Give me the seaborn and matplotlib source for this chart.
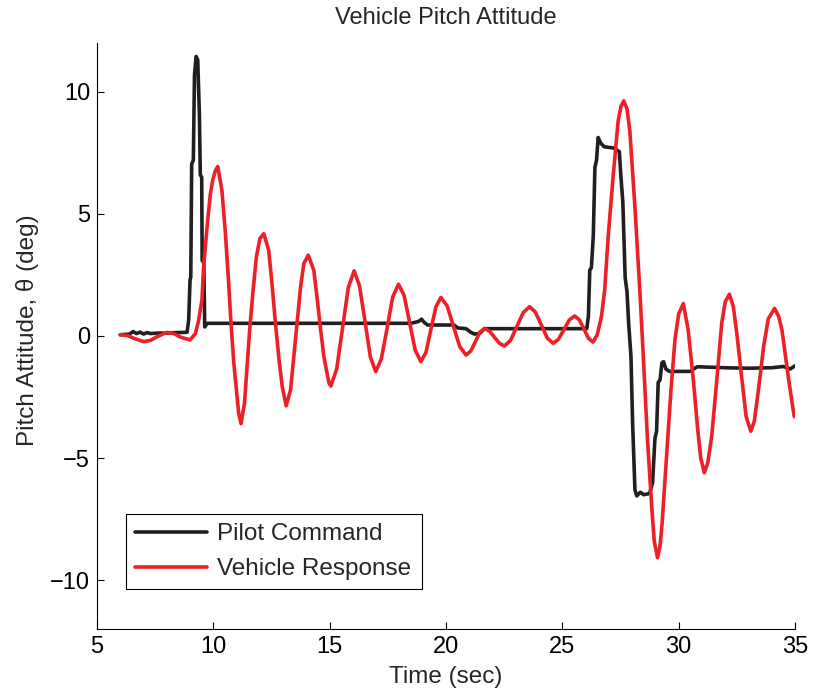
import numpy as np
import pandas as pd
import matplotlib
matplotlib.use("Agg")
import matplotlib.pyplot as plt
import seaborn as sns

# ---------------- data ----------------
cmd_time = [6.0, 6.4, 6.55, 6.7, 6.85, 7.0, 7.15, 7.3, 7.6, 8.0, 8.4, 8.87,
            8.94, 9.0, 9.03, 9.07, 9.14, 9.19, 9.26, 9.33, 9.4, 9.44, 9.5,
            9.52, 9.59, 9.63, 9.68, 9.75, 12.0, 15.0, 18.5, 18.83, 18.95,
            19.07, 19.21, 20.35, 20.5, 20.86, 21.07, 21.22, 21.44, 21.65,
            23.5, 25.96, 26.05, 26.12, 26.18, 26.25, 26.33, 26.4, 26.47,
            26.54, 26.65, 26.8, 27.2, 27.45, 27.52, 27.6, 27.7, 27.78, 27.85,
            27.95, 28.02, 28.12, 28.2, 28.35, 28.5, 28.75, 28.88, 28.98,
            29.05, 29.12, 29.2, 29.28, 29.35, 29.45, 29.6, 30.5, 30.65, 30.8,
            32.0, 33.0, 34.0, 34.5, 34.8, 35.0]
cmd_theta = [0.05, 0.08, 0.18, 0.10, 0.16, 0.08, 0.14, 0.10, 0.12, 0.12, 0.14, 0.15,
             0.65, 2.3, 2.4, 7.05, 7.2, 10.7, 11.45, 11.3, 9.1, 6.6, 6.5,
             3.1, 3.0, 0.37, 0.45, 0.52, 0.52, 0.52, 0.52, 0.60, 0.69,
             0.55, 0.45, 0.45, 0.33, 0.30, 0.15, 0.08, 0.10, 0.30,
             0.30, 0.30, 0.30, 0.80, 2.70, 2.80, 4.10, 6.90, 7.20,
             8.13, 7.90, 7.75, 7.70, 7.55, 6.50, 5.50, 2.40, 1.80, 0.52,
             -0.84, -3.56, -6.30, -6.55, -6.40, -6.50, -6.45, -6.00, -4.20,
             -3.90, -1.90, -1.80, -1.10, -1.05, -1.35, -1.45, -1.45, -1.35, -1.26,
             -1.30, -1.32, -1.30, -1.25, -1.35, -1.22]

resp_time = [6.0, 6.3, 6.6, 7.0, 7.3, 7.6, 8.0, 8.3, 8.6, 9.0, 9.23, 9.37,
             9.51, 9.58, 9.73, 9.87, 9.97, 10.08, 10.19, 10.37, 10.52, 10.66,
             10.76, 10.88, 10.99, 11.09, 11.19, 11.34, 11.45, 11.56, 11.71,
             11.85, 12.0, 12.17, 12.38, 12.52, 12.67, 12.81, 12.96, 13.13,
             13.32, 13.46, 13.6, 13.75, 13.89, 14.08, 14.32, 14.47, 14.58,
             14.75, 14.97, 15.05, 15.3, 15.55, 15.8, 16.05, 16.28, 16.52,
             16.75, 16.98, 17.22, 17.47, 17.71, 17.96, 18.2, 18.44, 18.68,
             18.92, 19.14, 19.35, 19.57, 19.78, 20.05, 20.32, 20.59, 20.86,
             21.06, 21.26, 21.45, 21.65, 21.87, 22.08, 22.3, 22.51, 22.78,
             23.05, 23.32, 23.59, 23.84, 24.1, 24.35, 24.6, 24.83, 25.07,
             25.3, 25.53, 25.73, 25.93, 26.12, 26.32, 26.5, 26.68, 26.82,
             26.97, 27.18, 27.4, 27.52, 27.64, 27.78, 27.9, 28.0, 28.12,
             28.33, 28.48, 28.66, 28.84, 28.95, 29.09, 29.2, 29.29, 29.48,
             29.67, 29.84, 30.0, 30.2, 30.41, 30.63, 30.82, 30.95, 31.1,
             31.25, 31.42, 31.64, 31.85, 32.0, 32.18, 32.35, 32.5, 32.72,
             32.9, 33.1, 33.25, 33.43, 33.65, 33.85, 34.12, 34.3, 34.44,
             34.73, 34.9, 34.97, 35.03]
resp_theta = [0.05, 0.02, -0.10, -0.23, -0.18, -0.02, 0.15, 0.10, -0.05, -0.16, 0.10, 0.65,
              1.47, 2.80, 4.46, 5.80, 6.37, 6.75, 6.94, 5.96, 4.19, 2.15,
              0.52, -1.11, -2.20, -3.16, -3.59, -2.75, -1.25, 0.24, 1.88,
              3.24, 3.99, 4.19, 3.51, 2.15, 0.52, -0.84, -2.07, -2.86,
              -2.20, -0.84, 0.52, 2.01, 2.97, 3.31, 2.69, 1.47, 0.52,
              -0.84, -1.93, -2.05, -1.36, 0.31, 1.98, 2.67, 2.06, 0.60,
              -0.86, -1.46, -0.94, 0.33, 1.60, 2.12, 1.66, 0.54, -0.59,
              -1.05, -0.67, 0.27, 1.20, 1.58, 1.23, 0.40, -0.43, -0.78,
              -0.62, -0.24, 0.15, 0.31, 0.20, -0.05, -0.30, -0.41, -0.17,
              0.40, 0.96, 1.20, 0.98, 0.45, -0.08, -0.30, -0.14, 0.26,
              0.66, 0.82, 0.66, 0.29, -0.09, -0.25, 0.05, 0.79, 1.88,
              4.05, 6.50, 8.82, 9.40, 9.63, 9.30, 8.41, 7.00, 5.28,
              1.88, -0.84, -4.24, -6.97, -8.40, -9.08, -8.60, -7.65, -4.93,
              -2.20, -0.16, 0.90, 1.33, 0.24, -1.80, -3.84, -5.00, -5.60,
              -5.20, -4.11, -1.80, 0.52, 1.40, 1.71, 1.20, 0.10, -1.80,
              -3.30, -3.90, -3.50, -2.20, -0.44, 0.70, 1.13, 0.80, 0.24,
              -1.80, -2.90, -3.30, -3.20]

series_names = ["Pilot Command", "Vehicle Response"]
series_colors = ["#231f20", "#ee2027"]
x_ticks = [5, 10, 15, 20, 25, 30, 35]
y_ticks = [-10, -5, 0, 5, 10]

df = pd.concat([
    pd.DataFrame({"time": cmd_time, "theta": cmd_theta, "series": series_names[0]}),
    pd.DataFrame({"time": resp_time, "theta": resp_theta, "series": series_names[1]}),
], ignore_index=True)

# ---------------- style ----------------
sns.set_style("ticks")
plt.rcParams["font.family"] = ["Liberation Sans", "DejaVu Sans"]

W, H = 817, 694
fig = plt.figure(figsize=(W / 100, H / 100), dpi=100)
ax = fig.add_axes([97 / W, (H - 629) / H, 698 / W, 586 / H])

sns.lineplot(data=df, x="time", y="theta", hue="series",
             palette=dict(zip(series_names, series_colors)),
             hue_order=series_names, estimator=None, sort=False,
             linewidth=2.6, legend=False, ax=ax)

ax.set_xlim(5, 35)
ax.set_ylim(-12, 12)
ax.set_xticks(x_ticks)
ax.set_yticks(y_ticks)
ax.tick_params(direction="in", length=5, width=0.8, labelsize=17,
               colors="black", pad=5)
for side in ["top", "right"]:
    ax.spines[side].set_visible(False)
for side in ["left", "bottom"]:
    ax.spines[side].set_linewidth(0.8)
    ax.spines[side].set_color("black")

ax.set_xlabel("Time (sec)", fontsize=17.5)
ax.set_ylabel("Pitch Attitude, \u03b8 (deg)", fontsize=17.5)
ax.xaxis.set_label_coords(0.5, -0.082)
ax.xaxis.label.set_va("center")
ax.yaxis.set_label_coords((28 - 97) / 698, 0.51)
ax.yaxis.label.set_va("center")

ax.set_title("Vehicle Pitch Attitude", fontsize=17, pad=0,
             y=(629 - 18) / 586, va="center")

leg = ax.legend(handles=ax.lines[:2], labels=series_names,
                loc="lower left", bbox_to_anchor=(0.0415, 0.068, 0.424, 0.128),
                mode="expand",
                fontsize=17.5, frameon=True, fancybox=False, shadow=False,
                handlelength=2.96, handletextpad=0.41, borderpad=0.37,
                labelspacing=0.53, borderaxespad=0)
leg.get_frame().set_edgecolor("black")
leg.get_frame().set_linewidth(0.8)
leg.get_frame().set_alpha(1)

fig.savefig("out.png", dpi=100)
